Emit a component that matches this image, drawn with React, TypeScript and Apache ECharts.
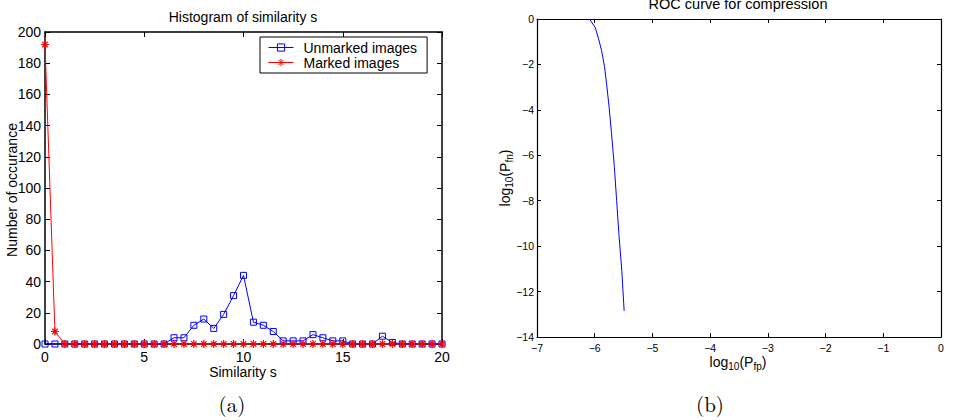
import React, { useEffect, useRef } from "react";
import * as echarts from "echarts";

// ---------- data ----------
const similarityX = [
  0, 0.5, 1, 1.5, 2, 2.5, 3, 3.5, 4, 4.5, 5, 5.5, 6, 6.5, 7, 7.5, 8, 8.5, 9, 9.5, 10,
  10.5, 11, 11.5, 12, 12.5, 13, 13.5, 14, 14.5, 15, 15.5, 16, 16.5, 17, 17.5, 18, 18.5,
  19, 19.5, 20,
];
const unmarkedCounts = [
  0, 0, 0, 0, 0, 0, 0, 0, 0, 0, 0, 0, 0, 4, 4, 12, 16, 10, 19, 31, 44,
  14, 12, 8, 2, 2, 2, 6, 4, 2, 2, 0, 0, 0, 5, 1, 0, 0,
  0, 0, 0,
];
const markedCounts = [
  192, 8, 0, 0, 0, 0, 0, 0, 0, 0, 0, 0, 0, 0, 0, 0, 0, 0, 0, 0, 0,
  0, 0, 0, 0, 0, 0, 0, 0, 0, 0, 0, 0, 0, 0, 0, 0, 0,
  0, 0, 0,
];
const seriesNames = ["Unmarked images", "Marked images"];

const rocLogPfp = [-6.09, -5.99, -5.93, -5.88, -5.83, -5.79, -5.75, -5.71, -5.66, -5.62, -5.58, -5.53, -5.49];
const rocLogPfn = [0, -0.38, -0.9, -1.4, -2.1, -2.95, -3.9, -5.0, -6.5, -8.0, -9.5, -11.1, -12.85];

const histXTicks = { min: 0, max: 20, interval: 5 };
const histYTicks = { min: 0, max: 200, interval: 20 };
const rocXTicks = { min: -7, max: 0, interval: 1 };
const rocYTicks = { min: -14, max: 0, interval: 2 };

const titles = ["Histogram of similarity s", "ROC curve for compression"];
const captions = ["(a)", "(b)"];

// ---------- styles ----------
const FONT = "'Liberation Sans', Arial, Helvetica, sans-serif";
const SERIF = "'Latin Modern Roman', 'DejaVu Serif', 'Liberation Serif', serif";
const BLUE = "#0000ff";
const RED = "#ff0000";
const ASTERISK = "path://M0,5L10,5M5,0L5,10M1.5,1.5L8.5,8.5M8.5,1.5L1.5,8.5";

const minus = (v: number) => (v < 0 ? "\u2212" + Math.abs(v) : String(v));

function axisPair(
  kind: "x" | "y",
  grid: number,
  t: { min: number; max: number; interval: number },
  fontSize: number,
  lineW: number,
  tickLen: number,
  margin: number,
  fmt?: (v: number) => string
) {
  const base = {
    type: "value",
    gridIndex: grid,
    min: t.min,
    max: t.max,
    interval: t.interval,
    splitLine: { show: false },
    axisLine: { show: true, onZero: false, lineStyle: { color: "#000", width: lineW } },
    axisTick: { show: true, inside: true, length: tickLen, lineStyle: { color: "#000", width: 1 } },
  };
  const main = {
    ...base,
    position: kind === "x" ? "bottom" : "left",
    axisLabel: {
      show: true,
      color: "#000",
      fontFamily: FONT,
      fontSize,
      margin,
      showMinLabel: true,
      showMaxLabel: true,
      formatter: fmt ? (v: number) => fmt(v) : undefined,
    },
  };
  const mirror = {
    ...base,
    position: kind === "x" ? "top" : "right",
    axisLabel: { show: false },
  };
  return [main, mirror];
}

export default function App() {
  const ref = useRef<HTMLDivElement>(null);

  useEffect(() => {
    if (!ref.current) return;
    const chart = echarts.init(ref.current, null, { renderer: "svg" });

    const xAxes = [
      ...axisPair("x", 0, histXTicks, 14, 1.5, 5, 6),
      ...axisPair("x", 1, rocXTicks, 10.5, 1.2, 4, 5, minus),
    ];
    const yAxes = [
      ...axisPair("y", 0, histYTicks, 14, 1.5, 5, 4),
      ...axisPair("y", 1, rocYTicks, 10.5, 1.2, 4, 3, minus),
    ];

    const txt = (
      text: string,
      x: number,
      y: number,
      size: number,
      family = FONT,
      rotation = 0
    ) => ({
      type: "text",
      x,
      y,
      rotation,
      silent: true,
      style: {
        text,
        fill: "#000",
        font: `${size}px ${family}`,
        align: "center",
        verticalAlign: "middle",
      },
    });

    const richLabel = (sub: string, x: number, y: number, rotation = 0) => ({
      type: "text",
      x,
      y,
      rotation,
      silent: true,
      style: {
        text: `{m|log}{s|10}{m|(P}{s|${sub}}{m|)}`,
        fill: "#000",
        align: "center",
        verticalAlign: "middle",
        rich: {
          m: { fontFamily: FONT, fontSize: 14, lineHeight: 19, fill: "#000" },
          s: { fontFamily: FONT, fontSize: 10, lineHeight: 10, verticalAlign: "bottom", fill: "#000" },
        },
      },
    });

    chart.setOption({
      animation: false,
      backgroundColor: "#fff",
      grid: [
        { left: 45, top: 32, width: 397, height: 312, containLabel: false },
        { left: 537, top: 19, width: 404, height: 318, containLabel: false },
      ],
      xAxis: xAxes,
      yAxis: yAxes,
      legend: {
        data: seriesNames,
        orient: "vertical",
        left: 260,
        top: 37,
        itemWidth: 25,
        itemHeight: 9,
        itemGap: 0,
        padding: [3, 10, 3, 8],
        borderColor: "#000",
        borderWidth: 1,
        backgroundColor: "#fff",
        itemStyle: { borderWidth: 1 },
        lineStyle: { width: 1 },
        textStyle: { fontFamily: FONT, fontSize: 14, color: "#000", lineHeight: 15, padding: [0, 0, 0, 5] },
      },
      series: [
        {
          name: seriesNames[0],
          type: "line",
          xAxisIndex: 0,
          yAxisIndex: 0,
          data: similarityX.map((x, i) => [x, unmarkedCounts[i]]),
          symbol: "rect",
          symbolSize: 6,
          lineStyle: { color: BLUE, width: 1 },
          itemStyle: { color: "rgba(255,255,255,0)", borderColor: BLUE, borderWidth: 1 },
          emphasis: { disabled: true },
          z: 2,
        },
        {
          name: seriesNames[1],
          type: "line",
          xAxisIndex: 0,
          yAxisIndex: 0,
          data: similarityX.map((x, i) => [x, markedCounts[i]]),
          symbol: ASTERISK,
          symbolSize: 8,
          lineStyle: { color: RED, width: 1 },
          itemStyle: { color: RED, borderColor: RED, borderWidth: 1.2 },
          emphasis: { disabled: true },
          z: 3,
        },
        {
          name: "ROC",
          type: "line",
          xAxisIndex: 2,
          yAxisIndex: 2,
          data: rocLogPfp.map((x, i) => [x, rocLogPfn[i]]),
          showSymbol: false,
          symbol: "none",
          clip: true,
          lineStyle: { color: BLUE, width: 1 },
          emphasis: { disabled: true },
        },
      ],
      graphic: [
        txt(titles[0], 243, 17, 14),
        txt(titles[1], 738, 4, 14.5),
        txt("Similarity s", 243, 372, 14),
        txt("Number of occurance", 12, 190, 14, FONT, Math.PI / 2),
        richLabel("fp", 738, 362),
        richLabel("fn", 505, 178, Math.PI / 2),
        txt(captions[0], 232, 403, 21, SERIF),
        txt(captions[1], 710, 403, 21, SERIF),
      ],
    });

    return () => chart.dispose();
  }, []);

  return (
    <div
      ref={ref}
      style={{ position: "fixed", left: 0, top: 0, width: 955, height: 420, background: "#fff" }}
    />
  );
}
